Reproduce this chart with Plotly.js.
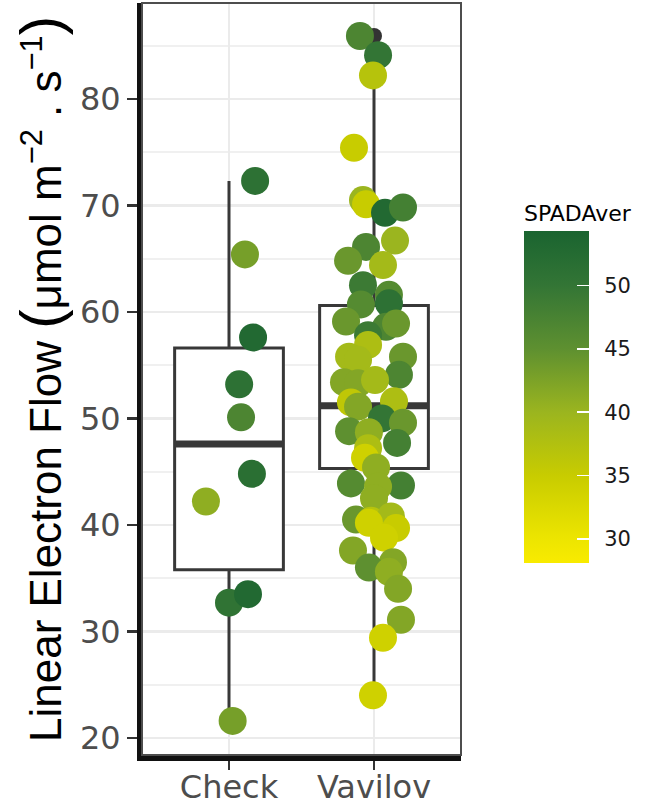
<!DOCTYPE html>
<html>
<head>
<meta charset="utf-8">
<script src="https://cdn.plot.ly/plotly-3.0.1.min.js"></script>
<style>html,body{margin:0;padding:0;background:#fff;}#chart{width:672px;height:805px;}</style>
</head>
<body>
<div id="chart"></div>
<script>
// ---- data ----
const categories = ['Check', 'Vavilov'];
const categoryPos = [1, 2];

// boxplot summary statistics per group
const boxQ1 = [35.8, 45.3];
const boxMedian = [47.6, 51.2];
const boxQ3 = [56.6, 60.6];
const boxLowerWhisker = [21.6, 24.0];
const boxUpperWhisker = [72.3, 82.2];

// outliers (Vavilov)
const outlierValues = [85.9, 84.1];

// Check group: LEF values, jitter offsets, SPAD colours
const checkLEF = [72.3, 65.4, 57.6, 53.2, 50.1, 44.8, 42.2, 32.7, 33.5, 21.6];
const checkJitter = [0.18, 0.11, 0.166, 0.07, 0.083, 0.158, -0.159, 0.0, 0.131, 0.025];
const checkSPAD = [51, 43, 53, 51, 47, 51.5, 41, 50.5, 53, 43];

// Vavilov group
const vavLEF = [85.9, 84.1, 82.2, 75.4, 70.5, 70.1, 69.3, 69.8, 66.7, 66.1,
                64.8, 64.4, 62.5, 61.6, 60.8, 60.7, 59.1, 58.6, 58.9, 57.8,
                56.9, 55.8, 55.5, 55.8, 54.1, 53.4, 53.3, 53.6, 51.6, 51.5,
                51.1, 50.0, 49.6, 48.8, 48.7, 47.7, 47.2, 46.3, 45.4, 43.9,
                43.7, 43.6, 42.5, 40.5, 40.4, 40.8, 39.7, 40.2, 38.8, 37.6,
                36.5, 36.0, 35.6, 34.0, 31.1, 29.4, 24.0];
const vavJitter = [-0.097, 0.028, -0.007, -0.138, -0.076, -0.055, 0.076, 0.2, 0.145, -0.055,
                   -0.179, 0.062, -0.076, 0.103, 0.103, -0.09, -0.193, 0.083, 0.152, -0.041,
                   -0.041, -0.172, -0.11, 0.2, 0.172, -0.207, -0.11, 0.007, 0.138, -0.159,
                   -0.11, 0.055, 0.2, -0.172, -0.035, 0.159, -0.041, -0.062, 0.014, -0.159,
                   0.186, 0.028, 0.0, -0.124, -0.021, 0.117, 0.152, -0.035, 0.069, -0.145,
                   0.131, -0.035, 0.103, 0.166, 0.186, 0.062, -0.007];
const vavSPAD = [47, 50, 37, 35, 40, 35, 53, 48, 40, 47,
                 44, 39, 49, 46, 51, 46, 44, 47, 44, 49,
                 38, 39, 39, 44, 47, 42, 42, 39, 38, 36,
                 42, 50, 44, 45, 41, 48, 38, 34, 41, 46,
                 48, 41, 41, 44, 37, 39, 35, 34, 34, 42,
                 42, 45, 41, 42, 42, 34, 34];

const spadRange = [28.1, 54.3];
const colorbarTicks = [30, 35, 40, 45, 50];
const yTicks = [20, 30, 40, 50, 60, 70, 80];

// ---- styling ----
const boxColor = '#383838';
const colorscale = [
  [0, '#F9EB00'],
  [0.0725, '#EDE500'],
  [0.263, '#C8CC00'],
  [0.454, '#9BB51F'],
  [0.645, '#5E9030'],
  [0.836, '#337535'],
  [1, '#1A6430']
];
const boxWidth = 0.75;

const M = {l: 142, r: 211, t: 3, b: 50};
const plotH = 805 - M.t - M.b;
const cbBarPx = 326, cbTitlePx = 36, cbThick = 65;
const cbX = 1.1975;
const cbBottomPaper = (805 - M.b - 563) / plotH;

const traces = [];

traces.push({
  type: 'box',
  x: categoryPos,
  q1: boxQ1, median: boxMedian, q3: boxQ3,
  lowerfence: boxLowerWhisker, upperfence: boxUpperWhisker,
  boxpoints: false,
  width: boxWidth,
  whiskerwidth: 0,
  fillcolor: 'white',
  line: {color: boxColor, width: 3},
  hoverinfo: 'skip',
  showlegend: false
});

categoryPos.forEach((c, i) => {
  traces.push({
    type: 'scatter', mode: 'lines',
    x: [c - boxWidth / 2, c + boxWidth / 2],
    y: [boxMedian[i], boxMedian[i]],
    line: {color: boxColor, width: 7},
    hoverinfo: 'skip', showlegend: false
  });
});

traces.push({
  type: 'scatter', mode: 'markers',
  x: outlierValues.map(() => categoryPos[1]),
  y: outlierValues,
  marker: {color: '#333333', size: 16},
  hoverinfo: 'skip', showlegend: false
});

traces.push({
  type: 'scatter', mode: 'markers',
  x: checkJitter.map(j => categoryPos[0] + j),
  y: checkLEF,
  marker: {color: checkSPAD, coloraxis: 'coloraxis', size: 28, opacity: 1, line: {width: 0}},
  showlegend: false
});
traces.push({
  type: 'scatter', mode: 'markers',
  x: vavJitter.map(j => categoryPos[1] + j),
  y: vavLEF,
  marker: {color: vavSPAD, coloraxis: 'coloraxis', size: 28, opacity: 1, line: {width: 0}},
  showlegend: false
});

const layout = {
  width: 672, height: 805,
  margin: M,
  paper_bgcolor: 'white', plot_bgcolor: 'white',
  showlegend: false,
  font: {family: 'DejaVu Sans', color: '#4d4d4d'},
  xaxis: {
    range: [0.4, 2.6],
    tickvals: categoryPos, ticktext: categories,
    tickfont: {size: 32, family: 'DejaVu Sans', color: '#4d4d4d'},
    ticks: 'outside', ticklen: 9, tickwidth: 2.5, tickcolor: '#333',
    ticklabelstandoff: -10,
    showgrid: true, gridcolor: '#ebebeb', gridwidth: 2.5,
    showline: true, linecolor: '#111', linewidth: 6,
    zeroline: false, fixedrange: true
  },
  yaxis: {
    range: [18.4, 89.0],
    tickvals: yTicks,
    tickfont: {size: 32, family: 'DejaVu Sans', color: '#4d4d4d'},
    ticks: 'outside', ticklen: 10, tickwidth: 2.5, tickcolor: '#333',
    showgrid: true, gridcolor: '#ebebeb', gridwidth: 2.5,
    minor: {tick0: 25, dtick: 10, showgrid: true, gridcolor: '#f0f0f0', gridwidth: 1.8, ticks: ''},
    showline: true, linecolor: '#111', linewidth: 5,
    zeroline: false, fixedrange: true,
    title: {
      text: 'Linear Electron Flow <span style="font-size:58px">(</span>μmol m<sup>−2</sup> . s<sup>−1</sup><span style="font-size:58px">)</span>',
      font: {size: 44, family: 'Liberation Sans', color: '#000'},
      standoff: 6
    }
  },
  coloraxis: {
    cmin: spadRange[0], cmax: spadRange[1],
    colorscale: colorscale,
    colorbar: {
      title: {text: 'SPADAver', side: 'top', font: {size: 22, family: 'DejaVu Sans', color: '#000'}},
      thickness: cbThick, thicknessmode: 'pixels',
      len: cbBarPx + cbTitlePx, lenmode: 'pixels',
      x: cbX, xanchor: 'left', xpad: 0,
      y: cbBottomPaper, yanchor: 'bottom', ypad: 0,
      outlinewidth: 0,
      tickvals: colorbarTicks,
      ticktext: colorbarTicks.map(v => '\u2002' + v),
      ticks: 'inside', ticklen: 12, tickwidth: 1.5, tickcolor: 'white',
      tickfont: {size: 21, family: 'DejaVu Sans', color: '#1a1a1a'}
    }
  },
  shapes: [{
    type: 'rect', xref: 'paper', yref: 'paper', x0: 0, x1: 1, y0: 0, y1: 1,
    line: {color: '#4d4d4d', width: 2}, fillcolor: 'rgba(0,0,0,0)', layer: 'above'
  }]
};

Plotly.newPlot('chart', traces, layout, {staticPlot: true, displayModeBar: false});
</script>
</body>
</html>
